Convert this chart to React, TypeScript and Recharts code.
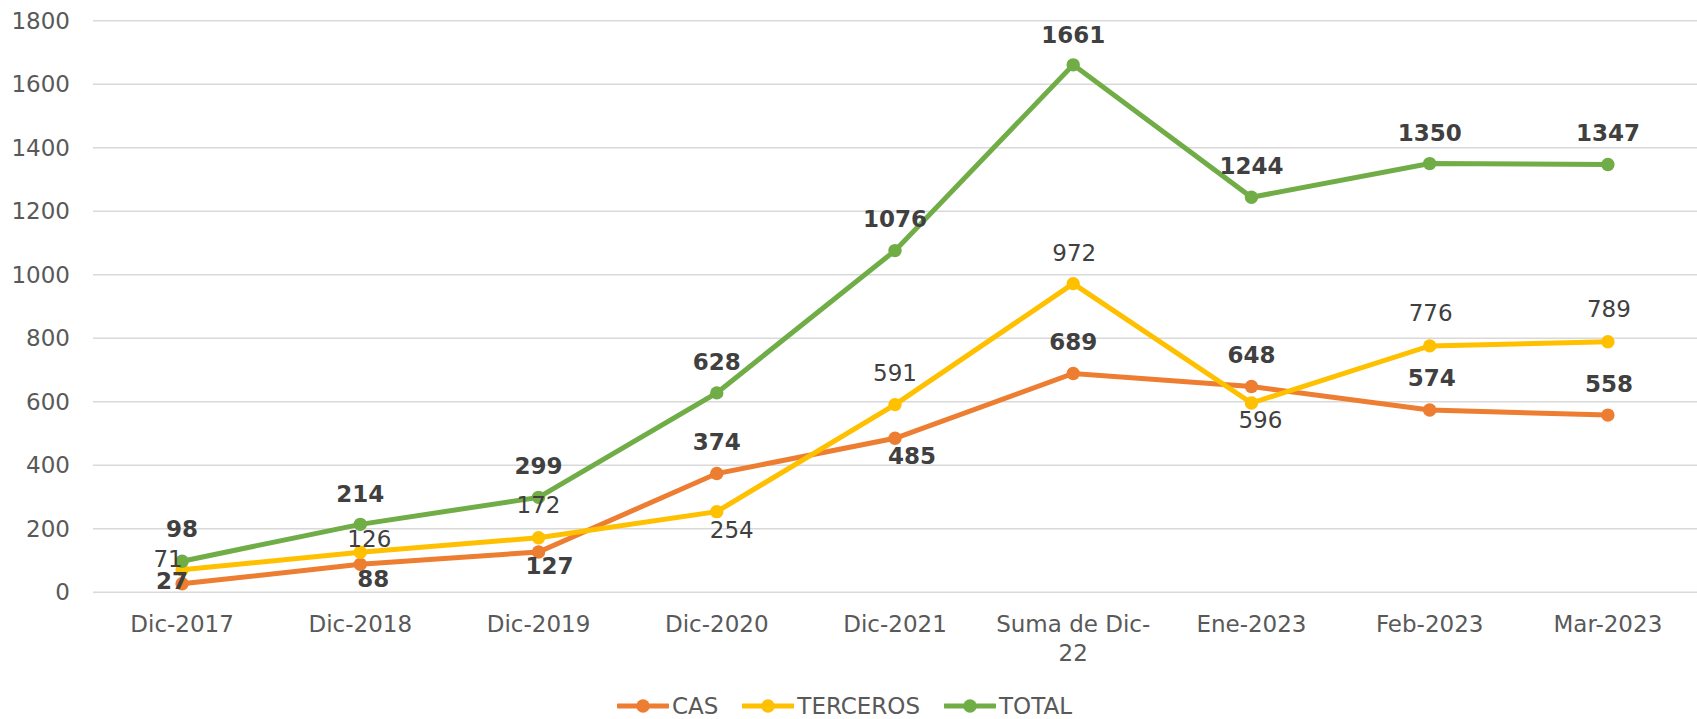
import React from "react";
import { LineChart, Line, XAxis, YAxis, CartesianGrid, Legend, LabelList } from "recharts";

const categories = ["Dic-2017", "Dic-2018", "Dic-2019", "Dic-2020", "Dic-2021", "Suma de Dic-22", "Ene-2023", "Feb-2023", "Mar-2023"];
const cas = [27, 88, 127, 374, 485, 689, 648, 574, 558];
const terceros = [71, 126, 172, 254, 591, 972, 596, 776, 789];
const total = [98, 214, 299, 628, 1076, 1661, 1244, 1350, 1347];
const yTicks = [0, 200, 400, 600, 800, 1000, 1200, 1400, 1600, 1800];

// label placement (dx, dy of the label centre from the point), as Excel left them
const casLabelPos = [[-10, -3], [13, 14], [11, 14], [0, -32], [17, 17], [0, -32], [0, -32], [2, -33], [1, -32]];
const tercerosLabelPos = [[-14, -11], [9, -14], [0, -33], [15, 18], [0, -32], [1, -31], [9, 16], [1, -33], [1, -33]];
const totalLabelPos = [[0, -33], [0, -31], [0, -32], [0, -31], [0, -32], [0, -30], [0, -32], [0, -31], [0, -32]];

const FONT = "'DejaVu Sans', Verdana, sans-serif";
const FS = 23;
const AXIS_TEXT = "#595959";
const LABEL_TEXT = "#404040";

const series = [
  { key: "CAS", color: "#ED7D31", bold: true, pos: casLabelPos },
  { key: "TERCEROS", color: "#FFC000", bold: false, pos: tercerosLabelPos },
  { key: "TOTAL", color: "#70AD47", bold: true, pos: totalLabelPos },
];

const data = categories.map((c, i) => ({ name: c, CAS: cas[i], TERCEROS: terceros[i], TOTAL: total[i] }));

function wrapLabel(s: string): string[] {
  // Excel breaks the long category after the hyphen
  if (s.length <= 10) return [s];
  const cut = s.lastIndexOf("-") + 1;
  return [s.slice(0, cut), s.slice(cut)];
}

function XTick(props: any) {
  const { x, y, payload } = props;
  const lines = wrapLabel(String(payload.value));
  return (
    <text x={x} y={y + 32} textAnchor="middle" fill={AXIS_TEXT} fontSize={FS} fontFamily={FONT}>
      {lines.map((l, i) => (
        <tspan key={i} x={x} dy={i === 0 ? 0 : 29}>{l}</tspan>
      ))}
    </text>
  );
}

function makeLabel(pos: number[][], bold: boolean) {
  return (props: any) => {
    const { x, y, value, index } = props;
    const [dx, dy] = pos[index] || [0, -32];
    return (
      <text
        x={x + dx}
        y={y + dy + 8.5}
        textAnchor="middle"
        fill={LABEL_TEXT}
        fontSize={FS}
        fontWeight={bold ? "bold" : "normal"}
        fontFamily={FONT}
      >
        {value}
      </text>
    );
  };
}

function LegendContent() {
  return (
    <div style={{ display: "flex", justifyContent: "center", alignItems: "center", height: 30, fontFamily: FONT, fontSize: FS, color: AXIS_TEXT }}>
      {series.map((s, i) => (
        <div key={s.key} style={{ display: "flex", alignItems: "center", marginRight: i < series.length - 1 ? 24 : 0 }}>
          <svg width={52} height={16}>
            <line x1={1} x2={51} y1={8} y2={8} stroke={s.color} strokeWidth={5} strokeLinecap="round" />
            <circle cx={26} cy={8} r={6.7} fill={s.color} />
          </svg>
          <span style={{ marginLeft: 3 }}>{s.key}</span>
        </div>
      ))}
    </div>
  );
}

export default function App() {
  return (
    <div style={{ width: 1697, height: 719, background: "#fff" }}>
      <style>{`body{margin:0}`}</style>
      <LineChart
        width={1697}
        height={719}
        data={data}
        margin={{ top: 20.7, right: 0, bottom: 96.7, left: 0 }}
        style={{ fontFamily: FONT }}
      >
        <CartesianGrid vertical={false} stroke="#D9D9D9" strokeWidth={1.5} />
        <XAxis
          dataKey="name"
          height={30}
          axisLine={false}
          tickLine={false}
          interval={0}
          padding={{ left: 89.1, right: 89.1 }}
          tick={<XTick />}
        />
        <YAxis
          width={93}
          domain={[0, 1800]}
          ticks={yTicks}
          axisLine={false}
          tickLine={false}
          tickMargin={17}
          tick={{ fill: AXIS_TEXT, fontSize: FS, fontFamily: FONT }}
        />
        <Legend
          layout="horizontal"
          verticalAlign="middle"
          align="center"
          wrapperStyle={{ top: 691, left: -4, width: 1697 }}
          content={<LegendContent />}
        />
        {series.map((s) => (
          <Line
            key={s.key}
            dataKey={s.key}
            stroke={s.color}
            strokeWidth={5}
            dot={{ r: 6.7, fill: s.color, stroke: s.color, strokeWidth: 0 }}
            activeDot={false}
            isAnimationActive={false}
          >
            <LabelList dataKey={s.key} content={makeLabel(s.pos, s.bold)} />
          </Line>
        ))}
      </LineChart>
    </div>
  );
}
